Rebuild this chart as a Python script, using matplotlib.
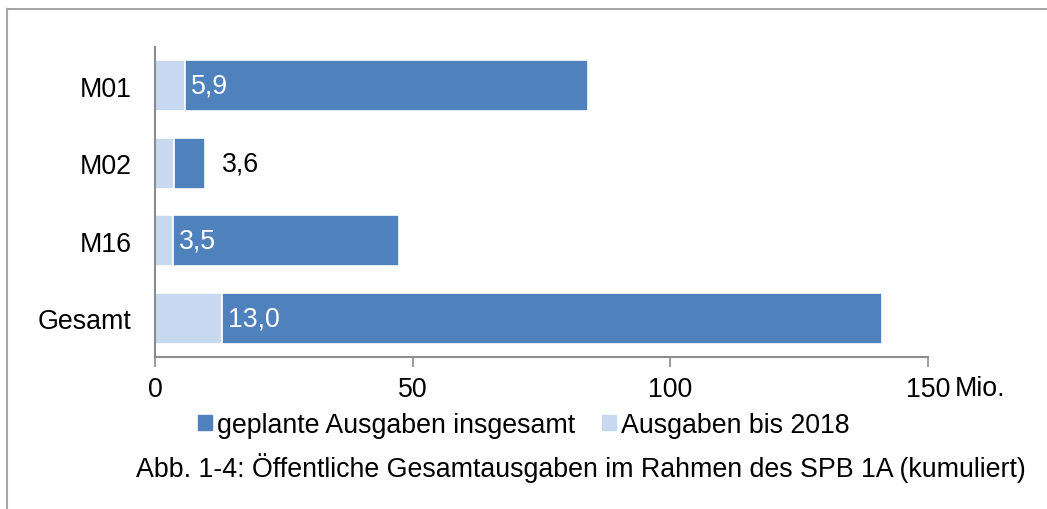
import matplotlib
matplotlib.use("Agg")
import matplotlib.pyplot as plt
from matplotlib.patches import Rectangle
from matplotlib.lines import Line2D

categories = ["M01", "M02", "M16", "Gesamt"]
planned_total = [84.0, 9.7, 47.3, 141.0]
spent_2018 = [5.9, 3.6, 3.5, 13.0]
spent_labels = ["5,9", "3,6", "3,5", "13,0"]
label_inside = [True, False, True, True]
xticks = [0, 50, 100, 150]

DARK = "#4F81BD"
LIGHT = "#C6D9F1"
GREY = "#8C8C8C"
FS = 19.3

plt.rcParams['font.family'] = ['Liberation Sans', 'DejaVu Sans']

fig = plt.figure(figsize=(10.47, 5.10), dpi=100)
ax = fig.add_axes([155/1047, 1-358/510, (928-155)/1047, (358-48)/510])

y = list(range(len(categories)))
h = 0.66
ax.barh(y, spent_2018, height=h, color=LIGHT, edgecolor="white", linewidth=1.2)
widths = [p - s for p, s in zip(planned_total, spent_2018)]
ax.barh(y, widths, left=spent_2018, height=h, color=DARK, edgecolor="white", linewidth=1.2)

for yi, s, p, lab, inside in zip(y, spent_2018, planned_total, spent_labels, label_inside):
    if inside:
        ax.annotate(lab, xy=(s, yi), xytext=(4, 0), textcoords="offset points",
                    ha="left", va="center", color="white", fontsize=FS)
    else:
        ax.annotate(lab, xy=(p, yi), xytext=(12, 0), textcoords="offset points",
                    ha="left", va="center", color="black", fontsize=FS)

ax.set_xlim(0, 150)
ax.set_ylim(len(categories) - 0.5, -0.5)
ax.set_yticks(y)
ax.set_yticklabels(categories, fontsize=FS)
ax.set_xticks(xticks)
ax.set_xticklabels([str(t) for t in xticks], fontsize=FS)
ax.tick_params(axis="y", length=0, pad=17)
ax.tick_params(axis="x", direction="out", length=7, width=1.2, color=GREY, pad=7)
for side in ["top", "right"]:
    ax.spines[side].set_visible(False)
for side in ["left", "bottom"]:
    ax.spines[side].set_color(GREY)
    ax.spines[side].set_linewidth(1.5)

fig.text(955/1047, 1-389/510, "Mio.", fontsize=FS, ha="left", va="center")

handles = [Rectangle((0, 0), 1, 1, color=DARK), Rectangle((0, 0), 1, 1, color=LIGHT)]
fig.legend(handles, ["geplante Ausgaben insgesamt", "Ausgaben bis 2018"],
           loc="center", bbox_to_anchor=(524/1047, 1-426/510), ncol=2, frameon=False,
           fontsize=FS, handlelength=0.5, handleheight=0.5, handletextpad=0.2,
           columnspacing=1.0)

fig.text(581/1047, 1-468/510,
         "Abb. 1-4: Öffentliche Gesamtausgaben im Rahmen des SPB 1A (kumuliert)",
         fontsize=FS, ha="center", va="center")

# outer frame (top and left edges)
fig.add_artist(Line2D([6.5/1047, 1], [1-10/510, 1-10/510], color="#A6A6A6", lw=1.5,
                      transform=fig.transFigure))
fig.add_artist(Line2D([6.5/1047, 6.5/1047], [0, 1-10/510], color="#A6A6A6", lw=1.5,
                      transform=fig.transFigure))

fig.savefig("out.png", dpi=100, facecolor="white")
